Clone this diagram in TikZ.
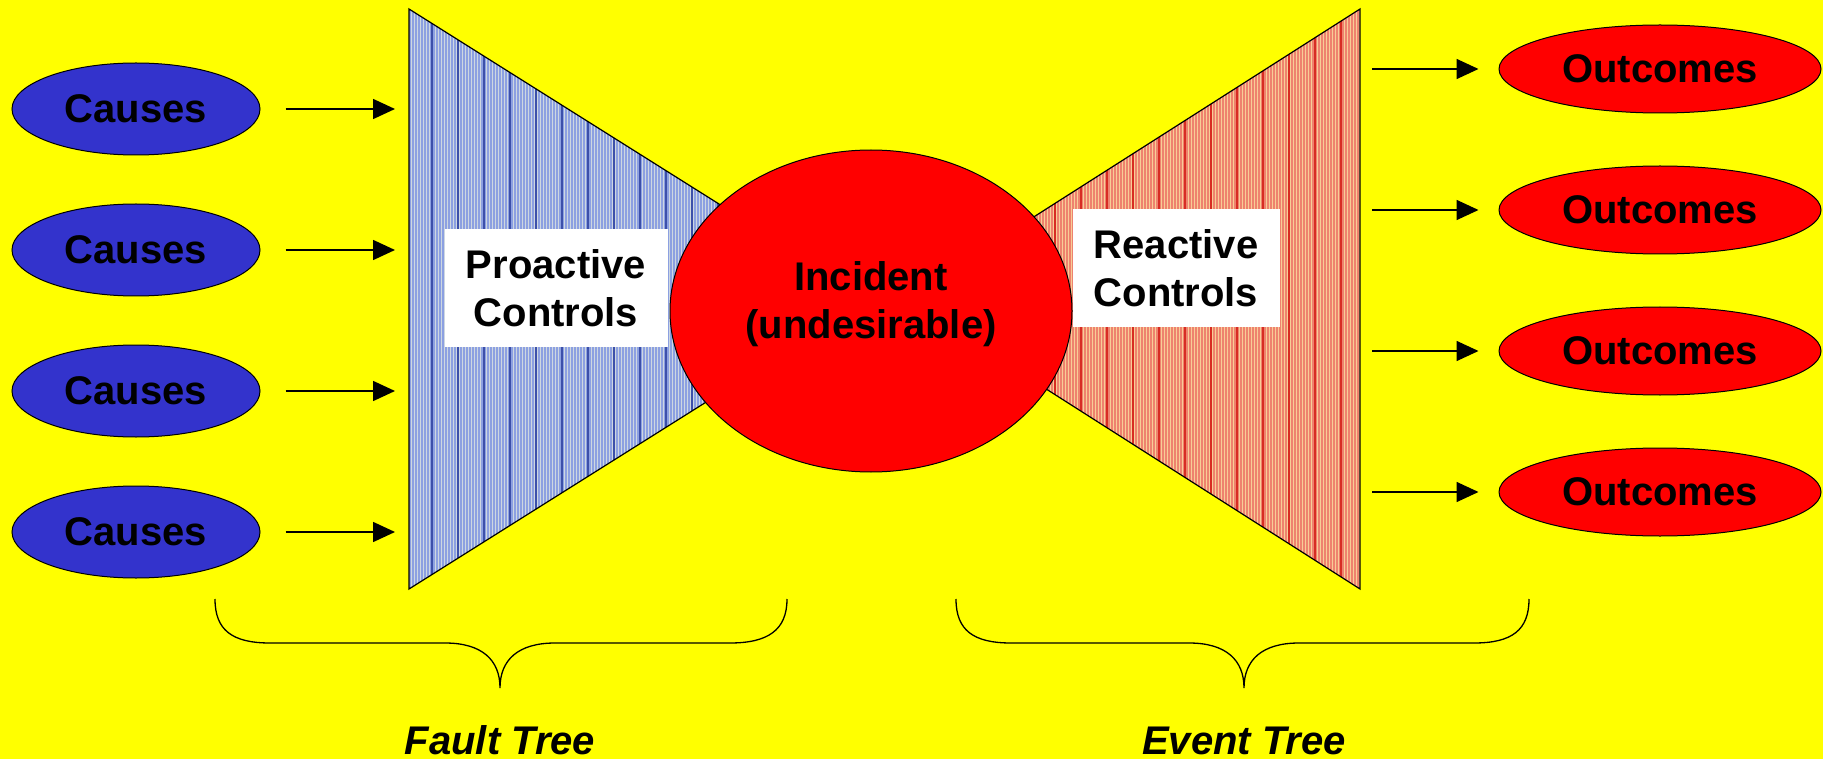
\documentclass[tikz,border=0pt]{standalone}
\usepackage{fontspec}
\setmainfont{Liberation Sans}
\usetikzlibrary{positioning, shapes.geometric, arrows.meta, calc}
\definecolor{bgyellow}{RGB}{255,255,0}
\definecolor{causeblue}{RGB}{51,51,204}
\definecolor{alarmred}{RGB}{255,0,0}
\definecolor{proaBase}{RGB}{205,215,225}
\definecolor{proaLine}{RGB}{140,160,225}
\definecolor{proaBand}{RGB}{60,80,170}
\definecolor{reacBase}{RGB}{248,205,150}
\definecolor{reacLine}{RGB}{238,130,110}
\definecolor{reacBand}{RGB}{215,45,35}
\def\causeGap{48pt}
\def\outcomeGap{52pt}
\tikzset{
  cause/.style={ellipse, draw=black, line width=1pt, fill=causeblue,
    minimum width=248pt, minimum height=92pt, inner sep=0pt},
  outcome/.style={ellipse, draw=black, line width=1pt, fill=alarmred,
    minimum width=322pt, minimum height=88pt, inner sep=0pt},
  incident/.style={ellipse, draw=black, line width=1pt, fill=alarmred,
    minimum width=402pt, minimum height=322pt, inner sep=0pt},
  ctrlbox/.style={rectangle, fill=white, minimum height=117pt, align=center, inner sep=0pt},
  flow/.style={->, line width=1.6pt},
  brace/.style={line width=1.3pt},
  treelabel/.style={anchor=base, font=\fontsize{40}{48}\selectfont\bfseries\itshape}
}
\begin{document}
\begin{tikzpicture}[x=1pt, y=-1pt, >={Triangle[length=22pt,width=20pt]},
  font=\fontsize{40}{48}\selectfont\bfseries]
  \useasboundingbox[fill=bgyellow] (0,0) rectangle (1823,759);

  % bow-tie corners
  \coordinate (ltop) at (409,9);
  \coordinate (lbot) at (409,589);
  \coordinate (lapex) at (870,299);
  \coordinate (rtop) at (1360,9);
  \coordinate (rbot) at (1360,589);
  \coordinate (rapex) at (905,299);

  % fault side
  \begin{scope}
    \clip (ltop) -- (lapex) -- (lbot) -- cycle;
    \fill[proaBase] (ltop) rectangle (lapex |- lbot);
    \foreach \x in {410,413,...,870}
      \draw[proaLine, line width=1.6pt] (\x,9) -- (\x,589);
    \foreach \x in {432,458,...,870}
      \draw[proaBand, line width=1.2pt] (\x,9) -- (\x,589);
  \end{scope}
  \draw[line width=1.2pt] (ltop) -- (lapex) -- (lbot) -- cycle;

  % event side
  \begin{scope}
    \clip (rtop) -- (rapex) -- (rbot) -- cycle;
    \fill[reacBase] (rapex |- rtop) rectangle (rbot);
    \foreach \x in {905,908,...,1360}
      \draw[reacLine, line width=1.8pt] (\x,9) -- (\x,589);
    \foreach \x in {925,951,...,1360}
      \draw[reacBand, line width=1.4pt] (\x,9) -- (\x,589);
  \end{scope}
  \draw[line width=1.2pt] (rtop) -- (rapex) -- (rbot) -- cycle;

  \node[incident] (incident) at (871,311) {};
  \node[align=center] (incidenttext) at ($(incident.center)+(0,-7)$) {Incident\\(undesirable)};
  \node[ctrlbox, minimum width=223pt] (proactive) at (556,288) {Proactive\\Controls};
  \node[ctrlbox, minimum width=207pt] (reactive) at (1176,268) {Reactive\\Controls};

  % causes
  \node[cause] (cause1) at (136,109) {Causes};
  \node[cause, below=\causeGap of cause1] (cause2) {Causes};
  \node[cause, below=\causeGap of cause2] (cause3) {Causes};
  \node[cause, below=\causeGap of cause3] (cause4) {Causes};

  % outcomes
  \node[outcome] (outcome1) at (1660,69) {Outcomes};
  \node[outcome, below=\outcomeGap of outcome1] (outcome2) {Outcomes};
  \node[outcome, below=\outcomeGap of outcome2] (outcome3) {Outcomes};
  \node[outcome, below=\outcomeGap of outcome3] (outcome4) {Outcomes};

  \foreach \i in {1,...,4} {
    \draw[flow, shorten <=25pt, shorten >=14pt] (cause\i.east) -- (cause\i.east -| ltop);
    \draw[flow, shorten <=12pt, shorten >=20pt] (outcome\i.west -| rtop) -- (outcome\i.west);
  }

  % braces
  \coordinate (ftip) at (500,688);
  \coordinate (etip) at (1244,688);
  \draw[brace] (215,599) .. controls (215,630) and (232,643) .. (270,643) -- (445,643)
    .. controls (482,643) and (500,660) .. (ftip)
    .. controls (500,660) and (518,643) .. (555,643) -- (730,643)
    .. controls (768,643) and (787,630) .. (787,599);
  \draw[brace] (956,599) .. controls (956,630) and (973,643) .. (1011,643) -- (1189,643)
    .. controls (1226,643) and (1244,660) .. (etip)
    .. controls (1244,660) and (1262,643) .. (1299,643) -- (1474,643)
    .. controls (1512,643) and (1529,630) .. (1529,599);

  \node[treelabel] (faulttree) at (500,754) {Fault Tree};
  \node[treelabel] (eventtree) at (1244,754) {Event Tree};
\end{tikzpicture}
\end{document}
